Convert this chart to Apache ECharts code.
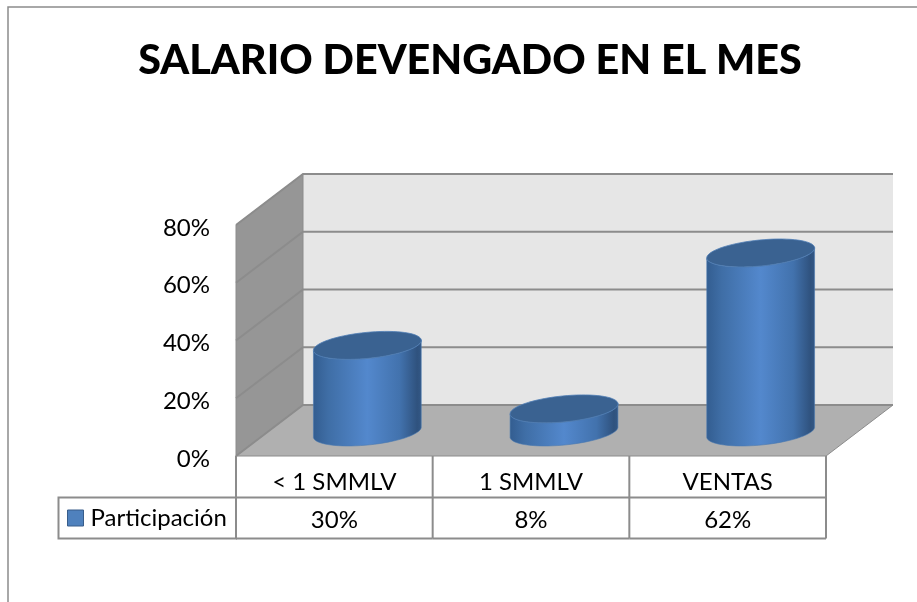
<!DOCTYPE html>
<html><head><meta charset="utf-8">
<style>html,body{margin:0;padding:0;background:#fff}#c{width:917px;height:602px}</style>
<script src="https://cdn.jsdelivr.net/npm/echarts@6/dist/echarts.min.js"></script>
</head><body><div id="c"></div>
<script>
var categories = ['< 1 SMMLV', '1 SMMLV', 'VENTAS'];
var participacion = [30, 8, 62];
var yTicks = [0, 20, 40, 60, 80];
var seriesName = 'Participación';
var titleText = 'SALARIO DEVENGADO EN EL MES';

var FONT = 'Lato';
var DEPTH_X = 67, DEPTH_Y = 51;
var MID_X = 33, MID_Y = 24;
var A = 54.2, B = 13, TILT = 5.6 * Math.PI / 180;
var LINE = '#8c8c8c';

function ellipsePoint(cx, cy, t) {
  var x = A * Math.cos(t), y = B * Math.sin(t);
  return [cx + x * Math.cos(TILT) + y * Math.sin(TILT),
          cy - x * Math.sin(TILT) + y * Math.cos(TILT)];
}
function ellipse(cx, cy) {
  var pts = [];
  for (var i = 0; i < 72; i++) pts.push(ellipsePoint(cx, cy, i / 72 * 2 * Math.PI));
  return pts;
}

function renderFrame(params, api) {
  var g = params.coordSys, L = g.x, R = g.x + g.width, T = g.y, Bt = g.y + g.height;
  var kids = [];
  function poly(points, fill, lw) {
    kids.push({type: 'polygon', shape: {points: points}, style: {fill: fill, stroke: LINE, lineWidth: lw}});
  }
  poly([[L + DEPTH_X, T - DEPTH_Y], [R + DEPTH_X, T - DEPTH_Y], [R + DEPTH_X, Bt - DEPTH_Y], [L + DEPTH_X, Bt - DEPTH_Y]], '#e6e6e6', 0);
  poly([[L, T], [L + DEPTH_X, T - DEPTH_Y], [L + DEPTH_X, Bt - DEPTH_Y], [L, Bt]], '#969696', 1);
  poly([[L, Bt], [L + DEPTH_X, Bt - DEPTH_Y], [R + DEPTH_X, Bt - DEPTH_Y], [R, Bt]], '#b0b0b0', 1);
  yTicks.forEach(function (v) {
    var y = api.coord([0, v])[1];
    kids.push({type: 'polyline', shape: {points: [[L, y], [L + DEPTH_X, y - DEPTH_Y], [R + DEPTH_X, y - DEPTH_Y]]},
      style: {fill: 'none', stroke: LINE, lineWidth: 2}});
  });
  return {type: 'group', children: kids};
}

function renderCyl(params, api) {
  var i = api.value(0), v = api.value(1);
  var base = api.coord([i, 0]), top = api.coord([i, v]);
  var bx = base[0] + MID_X, by = base[1] - MID_Y, ty = top[1] - MID_Y;
  var t0 = Math.atan2(B * Math.sin(TILT), A * Math.cos(TILT));
  var body = [];
  for (var k = 0; k <= 36; k++) body.push(ellipsePoint(bx, by, -t0 + k / 36 * Math.PI));
  var topArc = [];
  for (k = 36; k >= 0; k--) topArc.push(ellipsePoint(bx, ty, -t0 + k / 36 * Math.PI));
  return {type: 'group', children: [
    {type: 'polygon', shape: {points: body.concat(topArc)}, style: {
      fill: {type: 'linear', x: 0, y: 0, x2: 1, y2: 0, colorStops: [
        {offset: 0, color: '#335d90'}, {offset: 0.14, color: '#3f6ea6'}, {offset: 0.5, color: '#5388cd'},
        {offset: 0.8, color: '#4272ad'}, {offset: 0.96, color: '#2f527e'}, {offset: 1, color: '#335886'}]},
      stroke: '#4a78b0', lineWidth: 0.6}},
    {type: 'polygon', shape: {points: ellipse(bx, ty)}, style: {fill: '#3a6291', stroke: '#4f7db5', lineWidth: 0.8}}
  ]};
}

function renderTable(params, api) {
  var i = api.value(0), v = api.value(1);
  var g = params.coordSys, Bt = g.y + g.height;
  var w = api.size([1, 0])[0], c = api.coord([i, 0])[0];
  var y1 = Bt + 41.5, y2 = Bt + 82.5;
  var st = {stroke: LINE, lineWidth: 2, fill: 'none'};
  return {type: 'group', children: [
    {type: 'polyline', shape: {points: [[c + w / 2, Bt], [c + w / 2, y2]]}, style: st},
    {type: 'polyline', shape: {points: [[c - w / 2, y1], [c + w / 2, y1]]}, style: st},
    {type: 'polyline', shape: {points: [[c - w / 2, y2], [c + w / 2, y2]]}, style: st},
    {type: 'text', style: {text: v + '%', x: c, y: (y1 + y2) / 2 + 2, align: 'center', verticalAlign: 'middle',
      font: '24px ' + FONT, fill: '#000'}}
  ]};
}

function renderLegendCell(params, api) {
  var g = params.coordSys, L = g.x, Bt = g.y + g.height;
  var y1 = Bt + 41.5, y2 = Bt + 82.5, x0 = 58.5;
  return {type: 'polygon', shape: {points: [[L, Bt], [L, y1], [x0, y1], [x0, y2], [L, y2], [L, y1]]},
    style: {fill: 'none', stroke: LINE, lineWidth: 2}};
}

var rows = categories.map(function (c, i) { return [i, participacion[i]]; });
var chart = echarts.init(document.getElementById('c'), null, {renderer: 'canvas'});
chart.setOption({
  animation: false,
  backgroundColor: '#fff',
  title: {text: titleText, left: 465, top: 35, textAlign: 'center',
    textStyle: {fontFamily: FONT, fontWeight: 900, fontSize: 41.3, color: '#000'}},
  legend: {data: [{name: seriesName, icon: 'rect', itemStyle: {color: '#4f81bd', borderColor: '#385d8a', borderWidth: 1}}],
    left: 67, top: 506, itemWidth: 16, itemHeight: 16, itemGap: 5, selectedMode: false, padding: 0,
    textStyle: {fontFamily: FONT, fontSize: 24, color: '#000', padding: [0, 0, 0, 2]}},
  grid: {left: 236, top: 225, width: 590, height: 231, containLabel: false},
  xAxis: {type: 'category', data: categories, axisLine: {show: false}, axisTick: {show: false}, splitLine: {show: false},
    axisLabel: {fontFamily: FONT, fontSize: 24, color: '#000', margin: 14, interval: 0}},
  yAxis: {type: 'value', min: 0, max: 80, interval: 20, axisLine: {show: false}, axisTick: {show: false}, splitLine: {show: false},
    axisLabel: {color: '#000', margin: 26, formatter: '{t|{value}%}',
      rich: {t: {fontFamily: FONT, fontSize: 24, color: '#000', padding: [6, 0, 0, 0]}}}},
  graphic: [{type: 'polyline', silent: true, shape: {points: [[8, 602], [8, 7], [917, 7]]}, style: {fill: 'none', stroke: '#8c8c8c', lineWidth: 1.5}}],
  series: [
    {type: 'custom', name: 'frame', renderItem: renderFrame, data: [[0, 0]], silent: true, z: 1, clip: false},
    {type: 'custom', name: 'table', renderItem: renderTable, data: rows, silent: true, z: 1, clip: false},
    {type: 'custom', name: 'legendCell', renderItem: renderLegendCell, data: [[0, 0]], silent: true, z: 1, clip: false},
    {type: 'custom', name: seriesName, renderItem: renderCyl, data: rows, z: 3, clip: false, itemStyle: {color: '#4f81bd'},
      encode: {x: 0, y: 1}}
  ]
});
</script></body></html>
